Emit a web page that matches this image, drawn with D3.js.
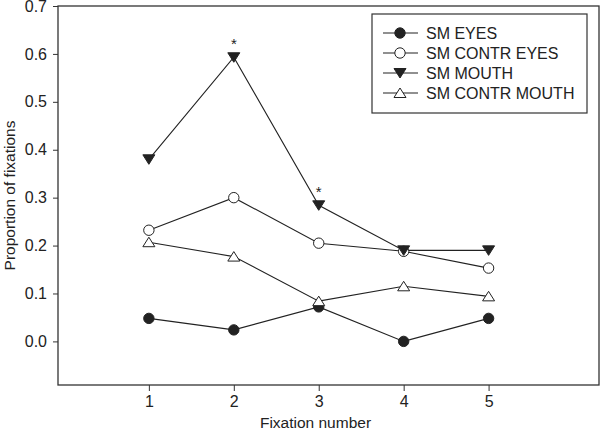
<!DOCTYPE html>
<html>
<head>
<meta charset="utf-8">
<script src="https://cdn.jsdelivr.net/npm/d3@7"></script>
<style>
  body { margin: 0; background: #fff; }
  svg { display: block; font-family: "Liberation Sans", Arial, sans-serif; }
</style>
</head>
<body>
<div id="chart"></div>
<script>
// fixation numbers on x
const fixations = [1, 2, 3, 4, 5];

const smEyes       = [0.048, 0.024, 0.072, 0.000, 0.048];
const smContrEyes  = [0.232, 0.300, 0.205, 0.188, 0.153];
const smMouth      = [0.380, 0.593, 0.284, 0.190, 0.190];
const smContrMouth = [0.207, 0.177, 0.084, 0.115, 0.094];

const seriesNames = ["SM EYES", "SM CONTR EYES", "SM MOUTH", "SM CONTR MOUTH"];
const yTicks = [0.0, 0.1, 0.2, 0.3, 0.4, 0.5, 0.6, 0.7];
const starAt = [2, 3]; // fixations marked significant

const width = 600, height = 431;
const margin = {top: 6, right: 1, bottom: 46, left: 58};

const svg = d3.select("#chart").append("svg")
    .attr("width", width)
    .attr("height", height);

const x = d3.scaleLinear()
    .domain([-0.07, 6.3])
    .range([margin.left, width - margin.right]);

const y = d3.scaleLinear()
    .domain([-0.091, 0.7])
    .range([height - margin.bottom, margin.top]);

const series = [
  {name: seriesNames[0], values: smEyes, shape: "circle", fill: "#222"},
  {name: seriesNames[1], values: smContrEyes, shape: "circle", fill: "#fff"},
  {name: seriesNames[2], values: smMouth, shape: "tri-down", fill: "#222"},
  {name: seriesNames[3], values: smContrMouth, shape: "tri-up", fill: "#fff"}
];

function drawMarker(g, shape, fill) {
  if (shape === "circle") {
    g.append("circle").attr("r", 5.2)
      .attr("fill", fill).attr("stroke", "#222").attr("stroke-width", 1);
  } else if (shape === "tri-down") {
    g.append("path").attr("d", "M-6,-4.5L6,-4.5L0,5Z")
      .attr("fill", fill).attr("stroke", "#222").attr("stroke-width", 1);
  } else {
    g.append("path").attr("d", "M-6,4.5L6,4.5L0,-5Z")
      .attr("fill", fill).attr("stroke", "#222").attr("stroke-width", 1);
  }
}

// frame
svg.append("rect")
    .attr("x", margin.left)
    .attr("y", margin.top)
    .attr("width", width - margin.right - margin.left)
    .attr("height", height - margin.bottom - margin.top)
    .attr("fill", "none")
    .attr("stroke", "#333")
    .attr("stroke-width", 1.3);

// axes
svg.append("g")
    .attr("transform", `translate(${margin.left},0)`)
    .call(d3.axisLeft(y).tickValues(yTicks).tickFormat(d3.format(".1f")).tickSize(5).tickPadding(6))
    .call(g => g.select(".domain").remove())
    .call(g => g.selectAll("line").attr("stroke", "#333"))
    .call(g => g.selectAll("text").style("font-size", "16px").attr("fill", "#222").attr("font-family", null));

svg.append("g")
    .attr("transform", `translate(0,${height - margin.bottom})`)
    .call(d3.axisBottom(x).tickValues(fixations).tickFormat(d3.format("d")).tickSize(6).tickPadding(5))
    .call(g => g.select(".domain").remove())
    .call(g => g.selectAll("line").attr("stroke", "#333"))
    .call(g => g.selectAll("text").style("font-size", "16px").attr("fill", "#222").attr("font-family", null));

// titles
svg.append("text")
    .attr("x", (margin.left + width - margin.right) / 2 - 13)
    .attr("y", height - 3)
    .attr("text-anchor", "middle")
    .style("font-size", "15.5px")
    .attr("fill", "#222")
    .text("Fixation number");

svg.append("text")
    .attr("transform", `translate(15,${(margin.top + height - margin.bottom) / 2}) rotate(-90)`)
    .attr("text-anchor", "middle")
    .style("font-size", "15.5px")
    .attr("fill", "#222")
    .text("Proportion of fixations");

// lines + markers
const line = d3.line()
    .x((d, i) => x(fixations[i]))
    .y(d => y(d));

series.forEach(s => {
  svg.append("path")
      .datum(s.values)
      .attr("fill", "none")
      .attr("stroke", "#222")
      .attr("stroke-width", 1.1)
      .attr("d", line);
});

series.forEach(s => {
  s.values.forEach((v, i) => {
    const g = svg.append("g").attr("transform", `translate(${x(fixations[i])},${y(v)})`);
    drawMarker(g, s.shape, s.fill);
  });
});

// significance stars above SM MOUTH
starAt.forEach(f => {
  svg.append("text")
      .attr("x", x(f))
      .attr("y", y(smMouth[f - 1]) - 8)
      .attr("text-anchor", "middle")
      .style("font-size", "15px")
      .attr("fill", "#222")
      .text("*");
});

// legend
const legend = svg.append("g").attr("transform", "translate(372,14)");
legend.append("rect")
    .attr("width", 215)
    .attr("height", 99)
    .attr("fill", "#fff")
    .attr("stroke", "#333")
    .attr("stroke-width", 1.2);

series.forEach((s, i) => {
  const row = legend.append("g").attr("transform", `translate(0,${19 + i * 20})`);
  row.append("line")
      .attr("x1", 11).attr("x2", 46)
      .attr("stroke", "#222").attr("stroke-width", 1.1);
  const m = row.append("g").attr("transform", "translate(28,0)");
  drawMarker(m, s.shape, s.fill);
  row.append("text")
      .attr("x", 54)
      .attr("dy", "0.36em")
      .style("font-size", "16px")
      .attr("fill", "#222")
      .text(s.name);
});
</script>
</body>
</html>
